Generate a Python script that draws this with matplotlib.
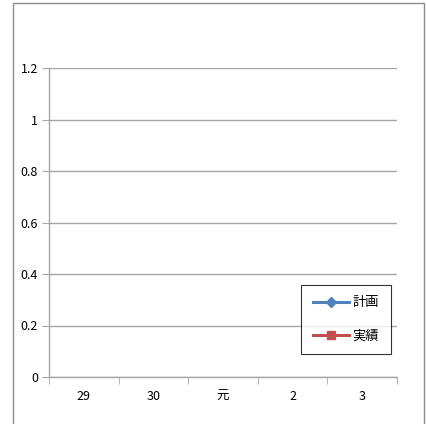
import numpy as np
import matplotlib
matplotlib.use("Agg")
import matplotlib.pyplot as plt
from matplotlib.patches import Rectangle

plt.rcParams['font.family'] = ['Noto Sans CJK JP', 'DejaVu Sans']

# data
categories = ['29', '30', '元', '2', '3']
plan = [np.nan, np.nan, np.nan, np.nan, np.nan]      # 計画 (no values shown)
actual = [np.nan, np.nan, np.nan, np.nan, np.nan]    # 実績 (no values shown)
yticks = [0, 0.2, 0.4, 0.6, 0.8, 1, 1.2]
ylabels = ['0', '0.2', '0.4', '0.6', '0.8', '1', '1.2']

W, H = 427, 424
fig = plt.figure(figsize=(W / 100, H / 100), dpi=100)
fig.patch.set_facecolor('white')

# outer chart frame
fig.patches.append(Rectangle((13 / W, -0.02), (424 - 13) / W, (H - 3) / H + 0.02,
                             transform=fig.transFigure, fill=False,
                             edgecolor='#8c8c8c', linewidth=1))

ax = fig.add_axes([49 / W, (H - 377) / H, (397 - 49) / W, (377 - 68) / H])
x = np.arange(len(categories))
ax.plot(x, plan, color='#4F81BD', marker='D', markersize=5, linewidth=2.2, label='計画')
ax.plot(x, actual, color='#C0504D', marker='s', markersize=6, linewidth=2.2, label='実績')

ax.set_xlim(-0.5, len(categories) - 0.5)
ax.set_ylim(0, 1.2)
ax.set_yticks(yticks)
ax.set_yticklabels(ylabels)
ax.set_xticks(x)
ax.set_xticklabels(categories)
ax.set_xticks(np.arange(len(categories) + 1) - 0.5, minor=True)

ax.grid(axis='y', color='#a6a6a6', linewidth=1)
ax.set_axisbelow(True)
for s in ['top', 'right']:
    ax.spines[s].set_visible(False)
for s in ['left', 'bottom']:
    ax.spines[s].set_color('#a6a6a6')
    ax.spines[s].set_linewidth(1)

ax.tick_params(axis='y', length=5, color='#a6a6a6', labelsize=9, pad=3)
ax.tick_params(axis='x', which='major', length=0, labelsize=9, pad=9)
ax.tick_params(axis='x', which='minor', length=5, color='#a6a6a6')

leg = ax.legend(loc='lower right', bbox_to_anchor=(346 / 348, 19 / 309),
                frameon=True, fancybox=False, edgecolor='black', fontsize=9.5,
                handlelength=2.7, labelspacing=1.5, borderpad=0.9, handletextpad=0.3,
                borderaxespad=0.3)
leg.get_frame().set_linewidth(0.8)

fig.savefig('out.png', dpi=100, facecolor='white')
